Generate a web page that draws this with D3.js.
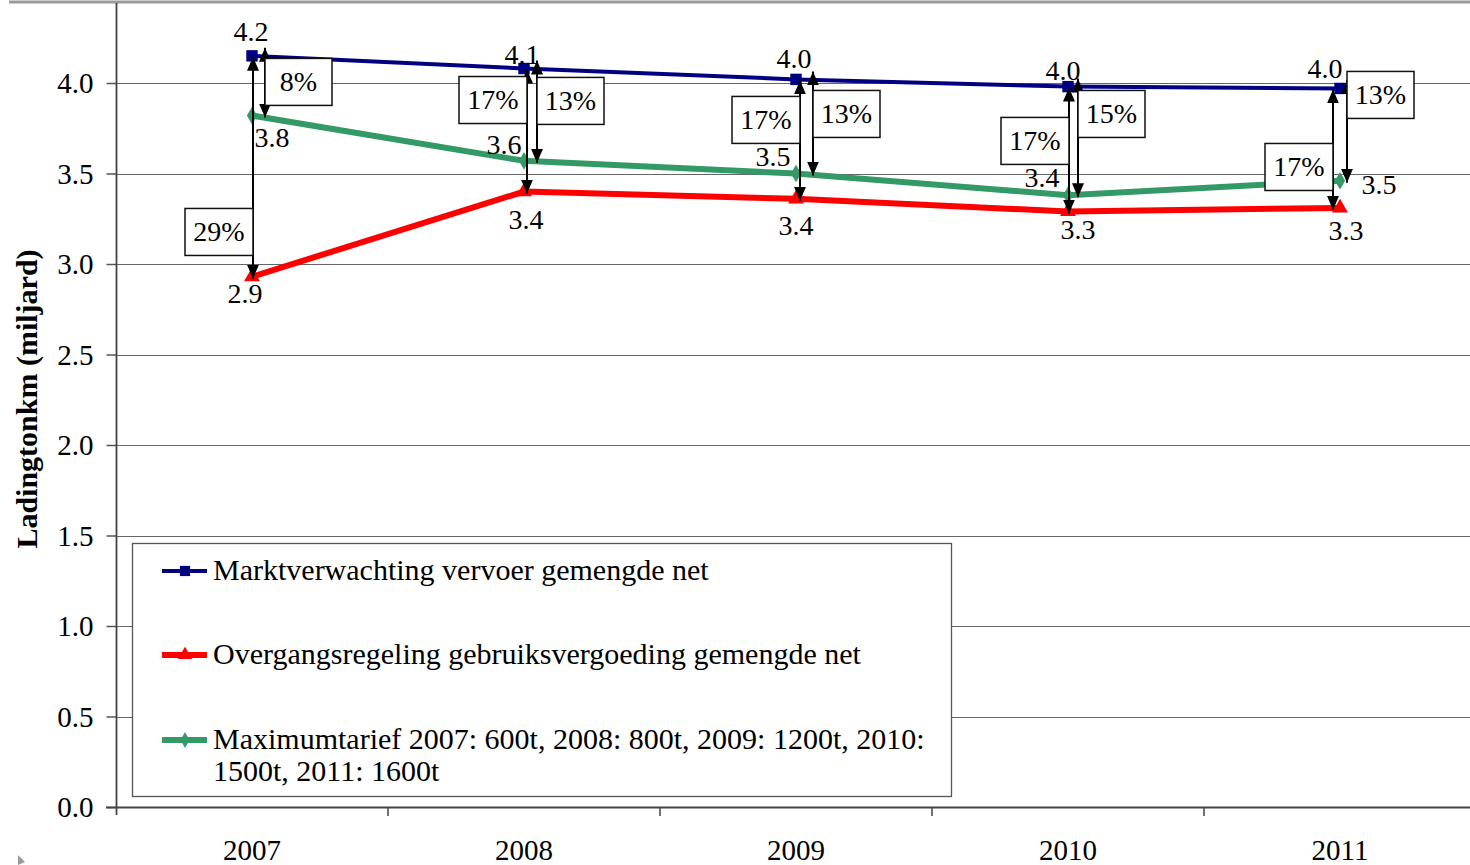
<!DOCTYPE html>
<html>
<head>
<meta charset="utf-8">
<script src="https://cdn.jsdelivr.net/npm/d3@7"></script>
<style>
  body { margin: 0; background: #fff; }
  text { font-family: "Liberation Serif", "Times New Roman", serif; }
</style>
</head>
<body>
<script>
var w = 1470;
var h = 865;

// data
var years = ["2007", "2008", "2009", "2010", "2011"];
var markt = [4.15, 4.08, 4.02, 3.98, 3.97];
var overgang = [2.93, 3.40, 3.36, 3.29, 3.31];
var maxTarief = [3.82, 3.57, 3.50, 3.38, 3.46];
var gapRed = ["29%", "17%", "17%", "17%", "17%"];
var gapGreen = ["8%", "13%", "13%", "15%", "13%"];
var yTicks = [0, 0.5, 1, 1.5, 2, 2.5, 3, 3.5, 4];
var seriesNames = [
  ["Marktverwachting vervoer gemengde net"],
  ["Overgangsregeling gebruiksvergoeding gemengde net"],
  ["Maximumtarief 2007: 600t, 2008: 800t, 2009: 1200t, 2010:", "1500t, 2011: 1600t"]
];

// annotation placement (label offsets in px, box centres in value units)
var blueOff = [[-1, -15], [-2, -5], [-2, -11], [-5, -7], [-15, -10]];
var greenOff = [[20, 31], [-20, -7], [-23, -8], [-26, -8], [39, 13]];
var redOff = [[-7, 26], [2, 37], [0, 36], [10, 27], [6, 32]];
var redArrowDx = [1, 3, 4, 1, -7];
var greenArrowDx = [13, 13, 17, 10, 7];
var redBoxAt = [3.177, 3.906, 3.796, 3.68, 3.536];
var greenBoxAt = [4.006, 3.901, 3.829, 3.829, 3.934];

var fmt = d3.format(".1f");

var svg = d3.select("body").append("svg").attr("width", w).attr("height", h);

var x = d3.scaleBand().domain(years).range([116, 1476]).padding(0);
var y = d3.scaleLinear().domain([0, 4]).range([807, 83]);
var cx = function (i) { return x(years[i]) + x.bandwidth() / 2; };

// top border
svg.append("line")
  .attr("x1", 9).attr("x2", w).attr("y1", 2).attr("y2", 2)
  .attr("stroke", "#9a9a9a").attr("stroke-width", 3);

// gridlines
svg.append("g").selectAll("line")
  .data(yTicks.slice(1))
  .enter().append("line")
  .attr("x1", 116).attr("x2", w)
  .attr("y1", function (d) { return Math.round(y(d)) + 0.5; })
  .attr("y2", function (d) { return Math.round(y(d)) + 0.5; })
  .attr("stroke", "#666").attr("stroke-width", 1.2);

// y axis
var yAxis = svg.append("g")
  .attr("transform", "translate(116.5,0)")
  .call(d3.axisLeft(y).tickValues(yTicks).tickFormat(fmt).tickSize(10).tickPadding(13));
yAxis.select(".domain").remove();
yAxis.selectAll(".tick line").attr("stroke", "#555").attr("stroke-width", 1.5);
yAxis.selectAll("text")
  .attr("font-family", "Liberation Serif").attr("font-size", "29px").attr("fill", "#000")
  .attr("dy", "0.34em");
svg.append("line")
  .attr("x1", 116.5).attr("x2", 116.5).attr("y1", 3).attr("y2", 815)
  .attr("stroke", "#444").attr("stroke-width", 1.8);

// x axis
svg.append("line")
  .attr("x1", 106).attr("x2", w).attr("y1", 807.5).attr("y2", 807.5)
  .attr("stroke", "#444").attr("stroke-width", 1.8);
svg.append("g").selectAll("line")
  .data(years.slice(1).concat(["end"]))
  .enter().append("line")
  .attr("x1", function (d, i) { return x(years[0]) + (i + 1) * x.bandwidth(); })
  .attr("x2", function (d, i) { return x(years[0]) + (i + 1) * x.bandwidth(); })
  .attr("y1", 807).attr("y2", 816)
  .attr("stroke", "#444").attr("stroke-width", 1.5);
svg.append("g").selectAll("text")
  .data(years)
  .enter().append("text")
  .text(function (d) { return d; })
  .attr("x", function (d, i) { return cx(i); })
  .attr("y", 860)
  .attr("text-anchor", "middle")
  .attr("font-size", "29px");

// y title
svg.append("text")
  .text("Ladingtonkm (miljard)")
  .attr("transform", "translate(37,399) rotate(-90)")
  .attr("text-anchor", "middle")
  .attr("font-size", "30px")
  .attr("font-weight", "bold");

// series
var series = [
  { values: markt, color: "#000080", width: 4, shape: d3.symbolSquare, size: 130 },
  { values: overgang, color: "#ff0000", width: 6, shape: d3.symbolTriangle, size: 110 },
  { values: maxTarief, color: "#339966", width: 6, shape: d3.symbolDiamond, size: 90 }
];

var line = d3.line()
  .x(function (d, i) { return cx(i); })
  .y(function (d) { return y(d); });

series.forEach(function (s) {
  svg.append("path")
    .datum(s.values)
    .attr("d", line)
    .attr("fill", "none")
    .attr("stroke", s.color)
    .attr("stroke-width", s.width);
  svg.append("g").selectAll("path")
    .data(s.values)
    .enter().append("path")
    .attr("d", d3.symbol().type(s.shape).size(s.size))
    .attr("transform", function (d, i) { return "translate(" + cx(i) + "," + y(d) + ")"; })
    .attr("fill", s.color);
});

// arrow heads
var defs = svg.append("defs");
defs.append("marker")
  .attr("id", "head")
  .attr("markerUnits", "userSpaceOnUse")
  .attr("viewBox", "0 0 14 12")
  .attr("refX", 14).attr("refY", 6)
  .attr("markerWidth", 14).attr("markerHeight", 12)
  .attr("orient", "auto-start-reverse")
  .append("path")
  .attr("d", "M0,0 L14,6 L0,12 Z")
  .attr("fill", "#000");

var arrows = svg.append("g");
years.forEach(function (yr, i) {
  arrows.append("line")
    .attr("x1", cx(i) + redArrowDx[i]).attr("x2", cx(i) + redArrowDx[i])
    .attr("y1", y(markt[i]) + 1).attr("y2", y(overgang[i]) + 2)
    .attr("stroke", "#000").attr("stroke-width", 2)
    .attr("marker-start", "url(#head)").attr("marker-end", "url(#head)");
  arrows.append("line")
    .attr("x1", cx(i) + greenArrowDx[i]).attr("x2", cx(i) + greenArrowDx[i])
    .attr("y1", y(markt[i]) - 8).attr("y2", y(maxTarief[i]) + 2)
    .attr("stroke", "#000").attr("stroke-width", 2)
    .attr("marker-start", "url(#head)").attr("marker-end", "url(#head)");
});

// percentage boxes
var boxW = 68, boxH = 47;
var boxes = svg.append("g");
years.forEach(function (yr, i) {
  var rx = cx(i) + redArrowDx[i] - boxW;
  var ry = y(redBoxAt[i]) - boxH / 2;
  boxes.append("rect")
    .attr("x", rx).attr("y", ry).attr("width", boxW).attr("height", boxH)
    .attr("fill", "#fff").attr("stroke", "#111").attr("stroke-width", 1.5);
  boxes.append("text")
    .text(gapRed[i])
    .attr("x", rx + boxW / 2).attr("y", ry + boxH / 2 + 9)
    .attr("text-anchor", "middle").attr("font-size", "28px");
  var gx = cx(i) + greenArrowDx[i];
  var gy = y(greenBoxAt[i]) - boxH / 2;
  boxes.append("rect")
    .attr("x", gx).attr("y", gy).attr("width", boxW - 1).attr("height", boxH)
    .attr("fill", "#fff").attr("stroke", "#111").attr("stroke-width", 1.5);
  boxes.append("text")
    .text(gapGreen[i])
    .attr("x", gx + (boxW - 1) / 2).attr("y", gy + boxH / 2 + 9)
    .attr("text-anchor", "middle").attr("font-size", "28px");
});

// value labels
function labels(values, offs) {
  svg.append("g").selectAll("text")
    .data(values)
    .enter().append("text")
    .text(function (d) { return fmt(d); })
    .attr("x", function (d, i) { return cx(i) + offs[i][0]; })
    .attr("y", function (d, i) { return y(d) + offs[i][1]; })
    .attr("text-anchor", "middle")
    .attr("font-size", "28px");
}
labels(markt, blueOff);
labels(maxTarief, greenOff);
labels(overgang, redOff);

// legend
var legend = svg.append("g");
legend.append("rect")
  .attr("x", 132.5).attr("y", 543.5).attr("width", 819).attr("height", 253)
  .attr("fill", "#fff").attr("stroke", "#555").attr("stroke-width", 1.3);
var legendY = [571, 655, 740];
series.forEach(function (s, i) {
  legend.append("line")
    .attr("x1", 162).attr("x2", 207).attr("y1", legendY[i]).attr("y2", legendY[i])
    .attr("stroke", s.color).attr("stroke-width", s.width);
  legend.append("path")
    .attr("d", d3.symbol().type(s.shape).size(s.size * 0.8))
    .attr("transform", "translate(185," + legendY[i] + ")")
    .attr("fill", s.color);
  seriesNames[i].forEach(function (t, j) {
    legend.append("text")
      .text(t)
      .attr("x", 213).attr("y", legendY[i] + 9 + j * 32)
      .attr("font-size", "30px");
  });
});

// small corner mark
svg.append("path")
  .attr("d", "M18,855 L25,862 L18,865 Z")
  .attr("fill", "#999");
</script>
</body>
</html>
